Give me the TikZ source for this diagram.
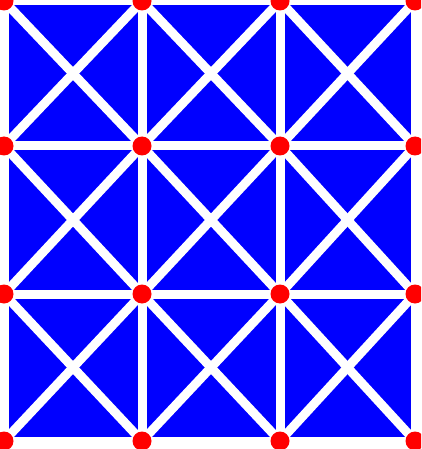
\documentclass[tikz,border=0pt]{standalone}
\begin{document}
\begin{tikzpicture}[x=1pt,y=-1pt,
  gridline/.style={white,line width=9pt},
  vdot/.style={circle,fill=red,inner sep=0pt,minimum size=19pt}]
\fill[white] (0,0) rectangle (421,449);
\useasboundingbox (0,0) rectangle (421,449);
\clip (0,0) rectangle (421,449);
\fill[blue] (4,1) rectangle (415,441);
\def\xs{{4,142,280,415}}
\def\ys{{1,146,294,441}}
\foreach \i in {0,...,3}{
  \foreach \j in {0,...,3}{
    \pgfmathsetmacro\px{\xs[\i]}
    \pgfmathsetmacro\py{\ys[\j]}
    \coordinate (p\i\j) at (\px,\py);
  }
}
\foreach \k in {0,...,3}{
  \draw[gridline] (p\k0) -- (p\k3);
  \draw[gridline] (p0\k) -- (p3\k);
}
\foreach \i/\ii in {0/1,1/2,2/3}{
  \foreach \j/\jj in {0/1,1/2,2/3}{
    \draw[gridline] (p\i\j) -- (p\ii\jj);
    \draw[gridline] (p\ii\j) -- (p\i\jj);
  }
}
\foreach \i in {0,...,3}{
  \foreach \j in {0,...,3}{
    \node[vdot] (d\i\j) at (p\i\j) {};
  }
}
\end{tikzpicture}
\end{document}
